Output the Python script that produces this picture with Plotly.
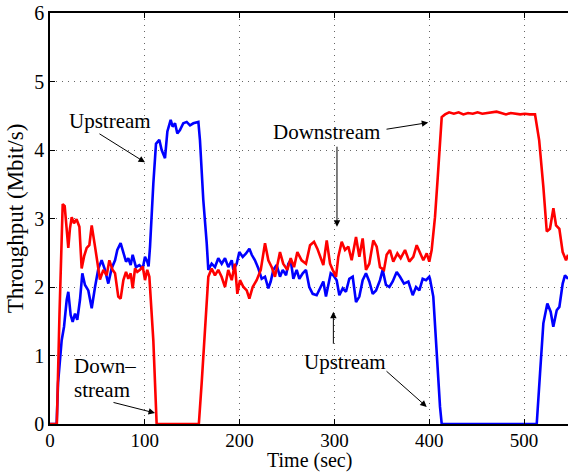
import plotly.graph_objects as go

# Downstream throughput samples (time in sec, Mbit/s)
down_t = [0, 7.2, 10, 13.4, 15.5, 17.5, 19.3, 21, 22.9, 25.3, 28, 31, 33.4, 36, 38.7, 41.5, 44,
          47.5, 50, 52.7, 56.3, 59.8, 62.6, 66, 68.6, 72, 74.5, 77.4, 80.2, 82.6, 85.1, 87.2, 89.7,
          92.1, 94.9, 97.8, 100.2, 102.6, 104.8, 107.3, 109, 112.5, 157, 160, 163.5, 167, 170.5,
          174, 177.5, 181, 184.6, 188, 191.7, 195, 197.6, 200.4, 204, 207.5, 210.3, 213.8, 218,
          222.3, 226.8, 230.3, 233.9, 237.3, 242.6, 246, 250.3, 253.9, 257.4, 260.9, 265.4, 270,
          274.3, 278.5, 282, 285.5, 288.3, 291.9, 295.4, 298.2, 301.7, 304.1, 307.7, 311.2, 314.7,
          318.2, 322.8, 326.3, 329.8, 333.3, 336.8, 341, 344.6, 348.1, 352.3, 355.1, 358.6, 362.1,
          366.4, 369.9, 374.5, 379, 383.2, 386.8, 390.3, 393.8, 397.4, 400.1, 402.6, 406.1, 409,
          411.4, 413.2, 416.7, 421, 426, 431, 436, 441, 446, 451, 456, 461, 466, 471, 476, 481,
          486, 491, 496, 501, 506, 511.6, 516, 520.4, 524, 527.4, 531, 533.8, 537.3, 540.8, 544.3,
          546.5]
down_v = [0, 0, 1.6, 3.21, 3.18, 2.85, 2.57, 2.85, 3.02, 2.93, 2.99, 2.88, 2.27, 2.45, 2.57, 2.61,
          2.90, 2.59, 2.35, 2.11, 2.25, 2.17, 2.39, 2.25, 2.2, 1.86, 1.83, 2.1, 2.22, 2.12, 2.2,
          1.98, 2.27, 2.22, 2.25, 2.3, 2.1, 2.25, 2.15, 1.52, 1.22, 0, 0, 0.6, 1.3, 2.15, 2.27,
          2.17, 2.25, 2.15, 2.0, 2.25, 2.1, 2.34, 1.9, 2.1, 2.0, 1.95, 1.83, 2.0, 2.1, 2.25, 2.64,
          2.39, 2.29, 2.15, 2.51, 2.34, 2.25, 2.42, 2.29, 2.51, 2.39, 2.34, 2.61, 2.66, 2.56, 2.42,
          2.32, 2.68, 2.34, 2.25, 2.15, 2.44, 2.66, 2.54, 2.59, 2.39, 2.73, 2.44, 2.71, 2.25, 2.34,
          2.68, 2.59, 2.29, 2.25, 2.47, 2.54, 2.37, 2.49, 2.42, 2.54, 2.37, 2.44, 2.61, 2.51, 2.39,
          2.49, 2.37, 2.54, 3.02, 3.6, 4.14, 4.48, 4.52, 4.55, 4.53, 4.55, 4.52, 4.54, 4.53, 4.55,
          4.53, 4.54, 4.55, 4.56, 4.54, 4.52, 4.54, 4.53, 4.52, 4.53, 4.52, 4.52, 4.14, 3.46, 2.81,
          2.85, 3.15, 2.9, 2.85, 2.51, 2.39, 2.47]

# Upstream throughput samples (time in sec, Mbit/s)
up_t = [0, 7, 8.5, 10.5, 12.3, 14.8, 17.6, 19.3, 21.8, 23.9, 26.4, 28.8, 31.6, 34.1, 36.9, 40.4,
        44, 47.5, 51, 54.5, 58, 61.5, 65, 68.6, 71, 74.5, 77.4, 80.2, 82.6, 85.1, 87.2, 90.7, 94.2,
        97.8, 100.2, 102.6, 104, 105.5, 109, 111.8, 115.3, 117.8, 121.3, 123.8, 127.3, 129.4,
        131.9, 134.3, 137.1, 140.6, 144.2, 147.7, 151.2, 156.5, 158.2, 161.7, 165.3, 167, 170.5,
        174, 177.5, 181.1, 184.6, 188.1, 191.7, 193.4, 196.9, 199.7, 203.3, 206.8, 210.3, 212.8,
        216.2, 219.8, 223.3, 226.8, 230.3, 232.8, 235.6, 239.1, 242.6, 245.5, 249, 251.4, 253.9,
        256.7, 260.2, 263, 266.6, 270, 273.5, 277.1, 281.3, 284.8, 288.3, 291.1, 293.6, 296.1,
        298.9, 302.4, 305.2, 308.8, 312.2, 315.7, 319.3, 322.8, 326.3, 329.8, 333.3, 336.8,
        340.4, 343.9, 348.1, 350.9, 354.4, 358, 361.5, 365.7, 369.2, 373.4, 378, 382.6, 386.1,
        389.6, 393.1, 396.6, 400.1, 400.8, 404.3, 407.9, 411.4, 413.2, 513.4, 516.9, 520.4,
        524.6, 528.1, 530.9, 534.5, 537.3, 540.8, 543.2, 546.5]
up_v = [0, 0, 0.6, 0.93, 1.22, 1.42, 1.81, 1.93, 1.59, 1.49, 1.61, 1.52, 1.81, 2.2, 2.03, 1.95,
        1.69, 2.0, 2.27, 2.39, 2.25, 2.05, 2.27, 2.39, 2.54, 2.64, 2.49, 2.37, 2.42, 2.32, 2.47,
        2.29, 2.32, 2.27, 2.44, 2.37, 2.3, 2.59, 3.51, 4.09, 4.15, 4.0, 3.88, 4.27, 4.44, 4.34,
        4.39, 4.24, 4.29, 4.39, 4.41, 4.36, 4.39, 4.41, 4.14, 3.27, 2.64, 2.25, 2.34, 2.29, 2.42,
        2.34, 2.42, 2.29, 2.39, 2.25, 2.34, 2.51, 2.44, 2.49, 2.56, 2.47, 2.39, 2.27, 2.12, 2.15,
        1.98, 2.08, 2.25, 2.32, 2.15, 2.25, 2.17, 2.34, 2.39, 2.12, 2.25, 2.12, 2.2, 2.25, 2.0,
        1.9, 1.88, 1.98, 2.08, 1.86, 2.05, 2.2, 2.17, 2.1, 1.88, 1.98, 1.93, 2.12, 2.15, 1.78,
        1.86, 2.1, 2.2, 2.08, 1.9, 1.95, 2.1, 2.25, 2.03, 2.0, 2.08, 2.22, 2.15, 2.05, 2.08, 1.88,
        2.0, 1.95, 2.12, 2.1, 2.15, 2.12, 1.86, 0.98, 0.25, 0, 0, 0.74, 1.47, 1.76, 1.64, 1.42,
        1.66, 1.71, 2.05, 2.17, 2.12]

x_ticks = [0, 100, 200, 300, 400, 500]
y_ticks = [0, 1, 2, 3, 4, 5, 6]

FONT = "Liberation Serif, Times New Roman, serif"

fig = go.Figure()
fig.add_trace(go.Scatter(x=up_t, y=up_v, mode="lines", name="Upstream",
                         line=dict(color="#0000ff", width=2.6)))
fig.add_trace(go.Scatter(x=down_t, y=down_v, mode="lines", name="Downstream",
                         line=dict(color="#ff0000", width=2.6)))

# text labels
labels = [
    ("Upstream", 63.3, 4.42, "center"),
    ("Down\u2013", 23.2, 0.85, "left"),
    ("stream", 23.2, 0.50, "left"),
    ("Downstream", 292, 4.27, "center"),
    ("Upstream", 311.2, 0.90, "center"),
]
for txt, lx, ly, anchor in labels:
    fig.add_annotation(x=lx, y=ly, text=txt, showarrow=False, xanchor=anchor,
                       yanchor="middle", font=dict(family=FONT, size=21, color="black"))

# arrows: (head_x, head_y, tail_x, tail_y)
arrows = [
    (100.2, 3.82, 50.6, 4.25),
    (110.8, 0.16, 65.4, 0.32),
    (399.0, 4.40, 353.4, 4.30),
    (302.7, 2.88, 302.7, 4.07),
    (298.9, 1.64, 298.9, 1.15),
    (397.4, 0.25, 353.4, 0.79),
]
for hx, hy, tx, ty in arrows:
    fig.add_annotation(x=hx, y=hy, ax=tx, ay=ty, xref="x", yref="y", axref="x", ayref="y",
                       text="", showarrow=True, arrowhead=2, arrowsize=1.3, arrowwidth=1,
                       arrowcolor="black")

# x-axis title placed below the tick labels
fig.add_annotation(x=0.5, y=-0.090, xref="paper", yref="paper", text="Time (sec)",
                   showarrow=False, xanchor="center", yanchor="middle",
                   font=dict(family=FONT, size=20, color="black"))

fig.update_layout(
    width=568, height=472,
    margin=dict(l=50, r=0, t=13, b=48),
    paper_bgcolor="white", plot_bgcolor="white",
    showlegend=False,
    font=dict(family=FONT, size=20, color="black"),
    xaxis=dict(
        range=[0, 546.4], tickvals=x_ticks, ticks="inside", ticklen=5, tickcolor="black",
        showline=True, linecolor="black", linewidth=1.5, mirror="ticks",
        showgrid=True, gridcolor="#666", griddash="1px,5px", gridwidth=1, zeroline=False,
        tickfont=dict(family=FONT, size=19), ticklabelstandoff=-2,
        automargin=False,
    ),
    yaxis=dict(
        range=[0, 6], tickvals=y_ticks, ticks="inside", ticklen=5, tickcolor="black",
        showline=True, linecolor="black", linewidth=1.5, mirror=False,
        showgrid=True, gridcolor="#666", griddash="1px,5px", gridwidth=1, zeroline=False,
        tickfont=dict(family=FONT, size=20),
        title=dict(text="Throughput (Mbit/s)", font=dict(family=FONT, size=23), standoff=4),
        automargin=False,
    ),
)

fig.write_html("out.html")
